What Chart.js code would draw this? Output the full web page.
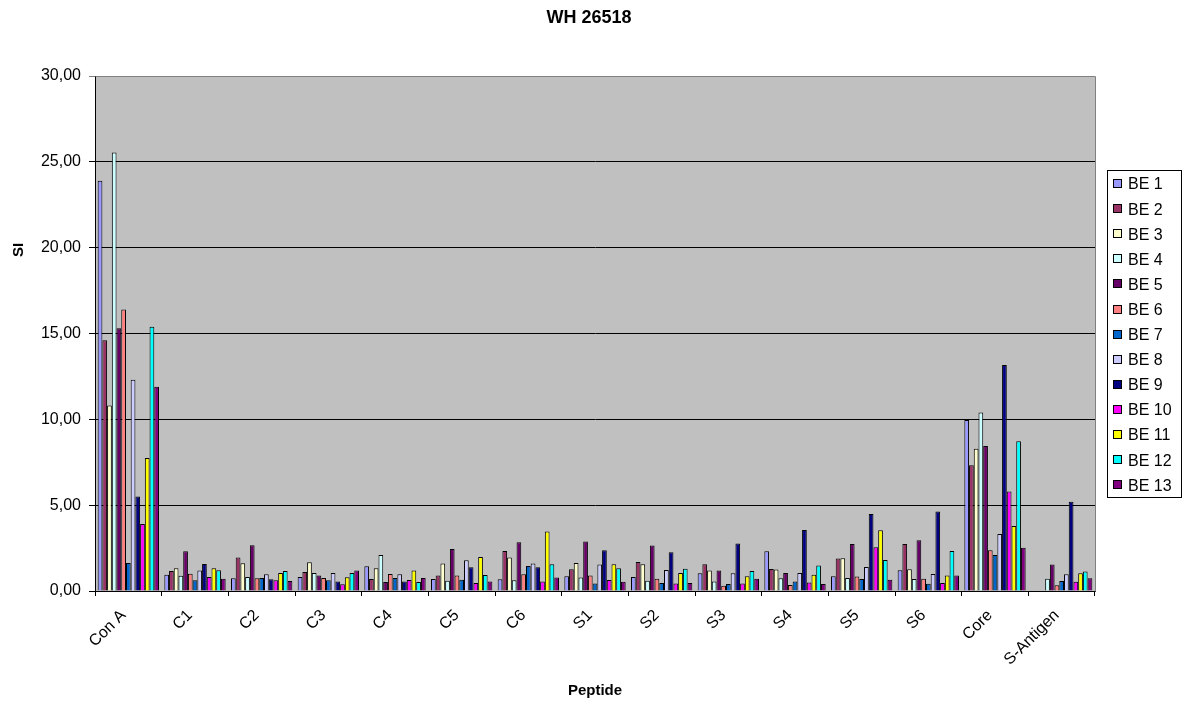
<!DOCTYPE html>
<html>
<head>
<meta charset="utf-8">
<script src="https://cdn.jsdelivr.net/npm/chart.js@4/dist/chart.umd.min.js"></script>
<style>
  html, body { margin: 0; padding: 0; background: #ffffff; }
  #wrap { width: 1184px; height: 704px; }
</style>
</head>
<body>
<div id="wrap"><canvas id="chart" width="1184" height="704"></canvas></div>
<script>
// Peptide stimulation indices (SI) per donor sample
const peptides = ['Con A', 'C1', 'C2', 'C3', 'C4', 'C5', 'C6', 'S1', 'S2', 'S3', 'S4', 'S5', 'S6', 'Core', 'S-Antigen'];
const seriesNames = ['BE 1', 'BE 2', 'BE 3', 'BE 4', 'BE 5', 'BE 6', 'BE 7', 'BE 8', 'BE 9', 'BE 10', 'BE 11', 'BE 12', 'BE 13'];

const be1  = [23.9, 0.95, 0.74, 0.82, 1.44, 0.70, 0.68, 0.86, 0.82, 1.03, 2.32, 0.86, 1.21, 9.96, null];
const be2  = [14.6, 1.17, 1.95, 1.11, 0.70, 0.90, 2.33, 1.26, 1.69, 1.56, 1.28, 1.89, 2.74, 7.32, null];
const be3  = [10.8, 1.33, 1.61, 1.67, 1.32, 1.60, 1.95, 1.63, 1.56, 1.20, 1.25, 1.91, 1.27, 8.29, null];
const be4  = [25.55, 0.89, 0.82, 1.05, 2.10, 0.60, 0.62, 0.78, 0.60, 0.56, 0.74, 0.76, 0.70, 10.4, 0.72];
const be5  = [15.3, 2.31, 2.66, 0.90, 0.53, 2.45, 2.84, 2.88, 2.65, 1.19, 1.05, 2.74, 2.96, 8.45, 1.55];
const be6  = [16.4, 1.00, 0.74, 0.76, 0.99, 0.91, 0.97, 0.90, 0.72, 0.31, 0.35, 0.84, 0.72, 2.37, 0.33];
const be7  = [1.63, 0.62, 0.76, 0.62, 0.76, 0.66, 1.46, 0.43, 0.47, 0.41, 0.56, 0.70, 0.42, 2.09, 0.58];
const be8  = [12.3, 1.19, 0.97, 1.05, 0.97, 1.79, 1.60, 1.54, 1.23, 1.03, 1.05, 1.40, 0.99, 3.32, 0.97];
const be9  = [5.5, 1.57, 0.68, 0.56, 0.56, 1.38, 1.38, 2.37, 2.26, 2.76, 3.56, 4.49, 4.63, 13.16, 5.2];
const be10 = [3.9, 0.82, 0.62, 0.39, 0.64, 0.47, 0.56, 0.64, 0.43, 0.43, 0.49, 2.55, 0.46, 5.79, 0.54];
const be11 = [7.75, 1.33, 1.05, 0.80, 1.20, 1.98, 3.46, 1.56, 1.05, 0.86, 0.95, 3.54, 0.91, 3.78, 1.03];
const be12 = [15.4, 1.21, 1.17, 1.05, 0.53, 0.93, 1.56, 1.32, 1.30, 1.17, 1.48, 1.81, 2.33, 8.73, 1.13];
const be13 = [11.9, 0.72, 0.58, 1.19, 0.76, 0.56, 0.78, 0.54, 0.47, 0.72, 0.41, 0.66, 0.91, 2.52, 0.74];

const seriesValues = [be1, be2, be3, be4, be5, be6, be7, be8, be9, be10, be11, be12, be13];
const seriesColors = ['#9999FF', '#993366', '#FFFFCC', '#CCFFFF', '#660066', '#FF8080', '#0066CC',
                      '#CCCCFF', '#000080', '#FF00FF', '#FFFF00', '#00FFFF', '#800080'];

const FONT = "'Liberation Sans', Arial, sans-serif";

// grey plot background plus grey top/right frame
const plotFrame = {
  id: 'plotFrame',
  beforeDraw(chart) {
    const { ctx, chartArea: a } = chart;
    ctx.save();
    ctx.fillStyle = '#C0C0C0';
    ctx.fillRect(a.left, a.top, a.right - a.left, a.bottom - a.top);
    ctx.restore();
  },
  afterDatasetsDraw(chart) {
    const { ctx, chartArea: a } = chart;
    ctx.save();
    ctx.strokeStyle = '#808080';
    ctx.lineWidth = 1;
    ctx.beginPath();
    ctx.moveTo(Math.round(a.left) + 0.5, Math.round(a.top) + 0.5);
    ctx.lineTo(Math.round(a.right) + 0.5, Math.round(a.top) + 0.5);
    ctx.lineTo(Math.round(a.right) + 0.5, Math.round(a.bottom) + 0.5);
    ctx.stroke();
    ctx.restore();
  }
};

// chart title, boxed legend on the right and vertical "SI" axis title
const sideText = {
  id: 'sideText',
  afterDraw(chart) {
    const { ctx } = chart;
    ctx.save();
    ctx.fillStyle = '#000000';
    ctx.font = 'bold 18px ' + FONT;
    ctx.textAlign = 'center';
    ctx.textBaseline = 'middle';
    ctx.fillText('WH 26518', 589, 18);

    // legend frame
    ctx.strokeStyle = '#000000';
    ctx.lineWidth = 1;
    ctx.strokeRect(1107.5, 170.5, 74, 327);
    ctx.font = '16px ' + FONT;
    ctx.textBaseline = 'middle';
    ctx.textAlign = 'left';
    chart.data.datasets.forEach((ds, i) => {
      const y = 184 + i * 25.1;
      ctx.fillStyle = ds.backgroundColor;
      ctx.fillRect(1114, Math.round(y) - 4, 8, 8);
      ctx.strokeStyle = '#000000';
      ctx.strokeRect(1113.5, Math.round(y) - 4.5, 8, 8);
      ctx.fillStyle = '#000000';
      ctx.fillText(ds.label, 1128, y + 1);
    });
    // y axis title
    ctx.translate(19, 250);
    ctx.rotate(-Math.PI / 2);
    ctx.font = 'bold 15px ' + FONT;
    ctx.textAlign = 'center';
    ctx.fillText('SI', 0, 0);
    ctx.restore();
  }
};

const datasets = seriesNames.map((name, i) => ({
  label: name,
  data: seriesValues[i],
  backgroundColor: seriesColors[i],
  borderColor: '#000000',
  borderWidth: 1,
  categoryPercentage: 0.92,
  barPercentage: 1.0
}));

new Chart(document.getElementById('chart'), {
  type: 'bar',
  data: { labels: peptides, datasets },
  plugins: [plotFrame, sideText],
  options: {
    responsive: false,
    animation: false,
    layout: { padding: { left: 0, right: 89, top: 76, bottom: 0 } },
    plugins: {
      legend: { display: false },
      tooltip: { enabled: false },
      title: { display: false }
    },
    scales: {
      x: {
        afterFit(s) { s.height = 113; },
        grid: { drawOnChartArea: false, color: '#000000', tickLength: 5, offset: true },
        border: { color: '#000000', width: 1 },
        ticks: {
          color: '#000000',
          font: { family: FONT, size: 16 },
          maxRotation: 45,
          minRotation: 45,
          autoSkip: false,
          padding: 10,
          labelOffset: -5
        },
        title: {
          display: true,
          text: 'Peptide',
          color: '#000000',
          font: { family: FONT, size: 15, weight: 'bold' },
          padding: { top: 4, bottom: 4 }
        }
      },
      y: {
        min: 0,
        max: 30,
        afterFit(s) { s.width = 95; },
        grid: {
          color: (c) => (c.tick && c.tick.value === 30 ? '#808080' : '#000000'),
          tickLength: 6,
          lineWidth: 1
        },
        border: { color: '#000000', width: 1 },
        ticks: {
          stepSize: 5,
          color: '#000000',
          font: { family: FONT, size: 16 },
          padding: 8,
          callback: (v) => v.toFixed(2).replace('.', ',')
        }
      }
    }
  }
});
</script>
</body>
</html>
